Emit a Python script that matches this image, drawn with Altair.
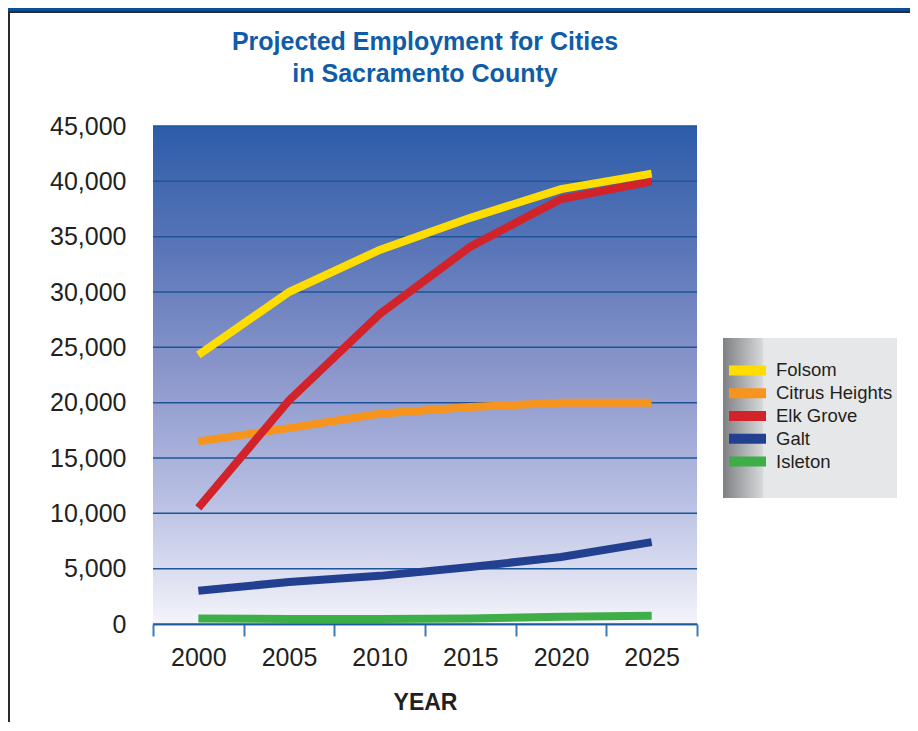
import altair as alt
import pandas as pd

years = [2000, 2005, 2010, 2015, 2020, 2025]
cities = ["Folsom", "Citrus Heights", "Elk Grove", "Galt", "Isleton"]
folsom = [24300, 30000, 33800, 36700, 39300, 40700]
citrus_heights = [16500, 17700, 19000, 19600, 20000, 20000]
elk_grove = [10500, 20200, 28000, 34100, 38400, 40000]
galt = [3000, 3800, 4350, 5150, 6050, 7400]
isleton = [500, 450, 450, 500, 650, 750]
y_ticks = [0, 5000, 10000, 15000, 20000, 25000, 30000, 35000, 40000, 45000]
colors = ["#FFDD00", "#F7941E", "#D2232A", "#233F8F", "#3EAE49"]

series = {
    "Folsom": folsom,
    "Citrus Heights": citrus_heights,
    "Elk Grove": elk_grove,
    "Galt": galt,
    "Isleton": isleton,
}
draw_order = ["Isleton", "Galt", "Citrus Heights", "Elk Grove", "Folsom"]
rows = []
for c in draw_order:
    for yr, v in zip(years, series[c]):
        rows.append({"year": yr, "city": c, "value": v})
df = pd.DataFrame(rows)
grid_df = pd.DataFrame({"v": y_ticks})
one = pd.DataFrame({"a": [0]})
leg_df = pd.DataFrame({"city": cities})

FONT = "Liberation Sans, Arial, sans-serif"
TXT = "#231f20"
W, H = 544, 498

color_scale = alt.Scale(domain=cities, range=colors)
y_scale = alt.Scale(domain=[0, 45000])
y_axis = alt.Axis(
    values=y_ticks, format=",.0f", domain=False, ticks=False, grid=False,
    labelFont=FONT, labelFontSize=25, labelColor=TXT, labelPadding=27,
    title=None,
)

bg_grad = alt.LinearGradient(
    gradient="linear", x1=0, y1=0, x2=0, y2=1,
    stops=[
        alt.GradientStop(color="#2d5ca9", offset=0),
        alt.GradientStop(color="#5a76b8", offset=0.25),
        alt.GradientStop(color="#8c97cb", offset=0.5),
        alt.GradientStop(color="#b8bfe3", offset=0.75),
        alt.GradientStop(color="#f4f4fa", offset=1),
    ],
)

bg = alt.Chart(one).mark_rect(fill=bg_grad).encode(
    x=alt.value(0), x2=alt.value(W), y=alt.value(0), y2=alt.value(H)
)

grid = alt.Chart(grid_df).mark_rule(color="#1d5598", strokeWidth=1.5).encode(
    y=alt.Y("v:Q", scale=y_scale, axis=y_axis)
)

lines = alt.Chart(df).mark_line(strokeWidth=8, strokeCap="butt").encode(
    x=alt.X(
        "year:O",
        bandPosition=0.5,
        scale=alt.Scale(type="band", paddingInner=0, paddingOuter=0),
        axis=alt.Axis(
            title="YEAR", labelAngle=0, tickBand="extent", tickSize=12, tickWidth=2,
            tickColor="#3d7bb9", domainColor="#2a6cb3", domainWidth=2,
            labelFont=FONT, labelFontSize=25, labelColor=TXT, labelPadding=9,
            titleFont=FONT, titleFontWeight="bold", titleFontSize=23,
            titleColor=TXT, titlePadding=21,
        ),
    ),
    y=alt.Y("value:Q", scale=y_scale, axis=y_axis),
    color=alt.Color("city:N", scale=color_scale, legend=None),
    detail="city:N",
)

main = alt.layer(bg, grid, lines).properties(
    width=W, height=H,
    title=alt.Title(
        ["Projected Employment for Cities", "in Sacramento County"],
        font=FONT, fontSize=25, fontWeight="bold", color="#0f5ca8",
        anchor="middle", frame="group", lineHeight=32, offset=27,
    ),
)

leg_grad = alt.LinearGradient(
    gradient="linear", x1=0, y1=0, x2=1, y2=0,
    stops=[
        alt.GradientStop(color="#7f8083", offset=0),
        alt.GradientStop(color="#d6d7d9", offset=0.225),
        alt.GradientStop(color="#e6e7e8", offset=0.235),
        alt.GradientStop(color="#e6e7e8", offset=1),
    ],
)
leg_y = alt.Y("city:N", scale=alt.Scale(type="point", domain=cities, range=[233, 347]), axis=None)
leg_bg = alt.Chart(one).mark_rect(fill=leg_grad).encode(
    x=alt.value(0), x2=alt.value(174), y=alt.value(212), y2=alt.value(372)
)
leg_sw = alt.Chart(leg_df).mark_rule(strokeWidth=10).encode(
    x=alt.value(6), x2=alt.value(43), y=leg_y,
    color=alt.Color("city:N", scale=color_scale, legend=None),
)
leg_txt = alt.Chart(leg_df).mark_text(
    align="left", baseline="middle", font=FONT, fontSize=18.5, color=TXT
).encode(x=alt.value(53), y=leg_y, text="city:N")

# page frame decoration (relative to the legend panel origin at page 723,126)
OX, OY = -715, -118
frame_top = alt.Chart(one).mark_rect(fill="#0c4f99").encode(
    x=alt.value(OX), x2=alt.value(OX + 902), y=alt.value(OY), y2=alt.value(OY + 3)
)
frame_line = alt.Chart(one).mark_rect(fill="#2b2b2b").encode(
    x=alt.value(OX), x2=alt.value(OX + 902), y=alt.value(OY + 3), y2=alt.value(OY + 5)
)
frame_left = alt.Chart(one).mark_rect(fill="#2b2b2b").encode(
    x=alt.value(OX), x2=alt.value(OX + 2), y=alt.value(OY + 3), y2=alt.value(OY + 714)
)

legend = alt.layer(leg_bg, leg_sw, leg_txt, frame_top, frame_line, frame_left).properties(
    width=174, height=H
)

chart = alt.hconcat(main, legend, spacing=26, bounds="flush").properties(
    padding={"left": 0, "top": 0, "right": 0, "bottom": 0}
).configure_view(stroke=None)

chart.save("out.html", embed_options={"renderer": "svg", "actions": False})
